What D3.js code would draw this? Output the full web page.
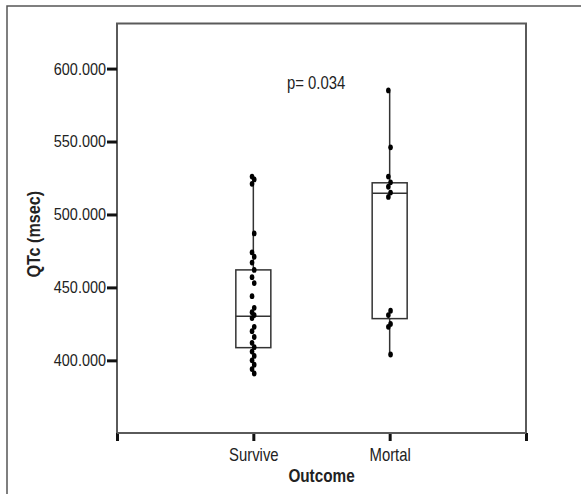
<html>
<head>
    <script src="https://d3js.org/d3.v7.min.js"></script>
    <style>
        body { margin: 0; background: white; }
        text { font-family: "Liberation Sans", Arial, sans-serif; fill: #222; }
    </style>
</head>
<body>
    <svg id="chart" width="581" height="494"></svg>

    <script>
    // categories and values
    const categories = ["Survive", "Mortal"];
    const surviveQTc = [526, 524, 521, 487, 474, 471, 467, 462, 457, 453, 444, 436, 433,
                        431, 429, 423, 420, 416, 412, 409, 406, 403, 400, 397, 394, 391];
    const mortalQTc = [585, 546, 526, 522, 519, 515, 512, 434, 431, 425, 423, 404];
    // box stats as drawn (min, q1, median, q3, max)
    const boxMin = [391, 403.4];
    const boxQ1 = [408.7, 428.6];
    const boxMedian = [430.3, 514.6];
    const boxQ3 = [462, 521.7];
    const boxMax = [526.5, 584];
    const yTicks = [400, 450, 500, 550, 600];
    const pText = "p= 0.034";

    const svg = d3.select("#chart");
    const plotLeft = 117, plotRight = 526, plotTop = 23.5, plotBottom = 433;
    const font = "'Liberation Sans', Arial, sans-serif";
    const narrow = 0.85; // the original type is a condensed face, squeeze it sideways

    const y = d3.scaleLinear().domain([350.2, 630.9]).range([plotBottom, plotTop]);
    // slots 0 and 3 are the empty ends of the axis
    const x = d3.scaleLinear().domain([0, categories.length + 1]).range([plotLeft, plotRight]);

    //outer frame (top and left edges only)
    svg.append("path")
        .attr("d", "M7,494 L7,6 L581,6")
        .attr("fill", "none")
        .attr("stroke", "#555")
        .attr("stroke-width", 1.5);

    //plot frame
    svg.append("rect")
        .attr("x", plotLeft).attr("y", plotTop)
        .attr("width", plotRight - plotLeft).attr("height", plotBottom - plotTop)
        .attr("fill", "none")
        .attr("stroke", "#5a5a5a")
        .attr("stroke-width", 2);

    //y axis
    const yAxis = svg.append("g")
        .attr("transform", `translate(${plotLeft},0)`)
        .call(d3.axisLeft(y).tickValues(yTicks).tickFormat(d3.format(".3f")).tickSize(10).tickPadding(1));
    yAxis.select(".domain").remove();
    yAxis.selectAll(".tick line").attr("stroke", "#111").attr("stroke-width", 3);
    yAxis.selectAll(".tick text")
        .attr("x", -11 / narrow)
        .attr("transform", `scale(${narrow},1)`)
        .style("font-size", "17px")
        .style("font-family", font)
        .attr("fill", "#222");

    //x axis
    const xAxis = svg.append("g")
        .attr("transform", `translate(0,${plotBottom})`)
        .call(d3.axisBottom(x).tickValues(d3.range(0, categories.length + 2))
            .tickFormat(i => categories[i - 1] || "").tickSize(8).tickPadding(8));
    xAxis.select(".domain").remove();
    xAxis.selectAll(".tick line").attr("stroke", "#111").attr("stroke-width", 3);
    xAxis.selectAll(".tick text")
        .attr("transform", `scale(${narrow},1)`)
        .style("font-size", "17.5px")
        .style("font-family", font)
        .attr("fill", "#222");
    svg.append("line")
        .attr("x1", plotLeft).attr("x2", plotRight)
        .attr("y1", plotBottom).attr("y2", plotBottom)
        .attr("stroke", "#5a5a5a").attr("stroke-width", 2);

    //axis titles
    svg.append("text")
        .attr("transform", `translate(${(plotLeft + plotRight) / 2},482) scale(${narrow},1)`)
        .attr("text-anchor", "middle")
        .style("font-size", "18px").style("font-weight", "bold")
        .text("Outcome");

    svg.append("text")
        .attr("transform", `translate(40,${(plotTop + plotBottom) / 2 + 6}) rotate(-90) scale(${narrow},1)`)
        .attr("text-anchor", "middle")
        .style("font-size", "19px").style("font-weight", "bold")
        .text("QTc (msec)");

    //boxes
    const boxW = 35;
    const boxes = svg.append("g");
    categories.forEach(function (c, i) {
        const cx = x(i + 1);
        boxes.append("line")
            .attr("x1", cx).attr("x2", cx)
            .attr("y1", y(boxMax[i])).attr("y2", y(boxQ3[i]))
            .attr("stroke", "#333").attr("stroke-width", 1.5);
        boxes.append("line")
            .attr("x1", cx).attr("x2", cx)
            .attr("y1", y(boxQ1[i])).attr("y2", y(boxMin[i]))
            .attr("stroke", "#333").attr("stroke-width", 1.5);
        boxes.append("rect")
            .attr("x", cx - boxW / 2).attr("y", y(boxQ3[i]))
            .attr("width", boxW).attr("height", y(boxQ1[i]) - y(boxQ3[i]))
            .attr("fill", "white")
            .attr("stroke", "#333").attr("stroke-width", 1.5);
        boxes.append("line")
            .attr("x1", cx - boxW / 2).attr("x2", cx + boxW / 2)
            .attr("y1", y(boxMedian[i])).attr("y2", y(boxMedian[i]))
            .attr("stroke", "#333").attr("stroke-width", 1.5);
    });

    //points, nudged a little left/right like the original jitter
    const groups = [surviveQTc, mortalQTc];
    groups.forEach(function (vals, i) {
        svg.append("g").selectAll("ellipse").data(vals)
            .join("ellipse")
            .attr("cx", (d, j) => x(i + 1) + (j % 2 === 0 ? -1.3 : 0.9))
            .attr("cy", d => y(d))
            .attr("rx", 2.3).attr("ry", 2.9)
            .attr("fill", "#000");
    });

    //p value
    svg.append("text")
        .attr("transform", `translate(287,89) scale(${narrow},1)`)
        .style("font-size", "17.5px")
        .text(pText);
    </script>
</body>
</html>
